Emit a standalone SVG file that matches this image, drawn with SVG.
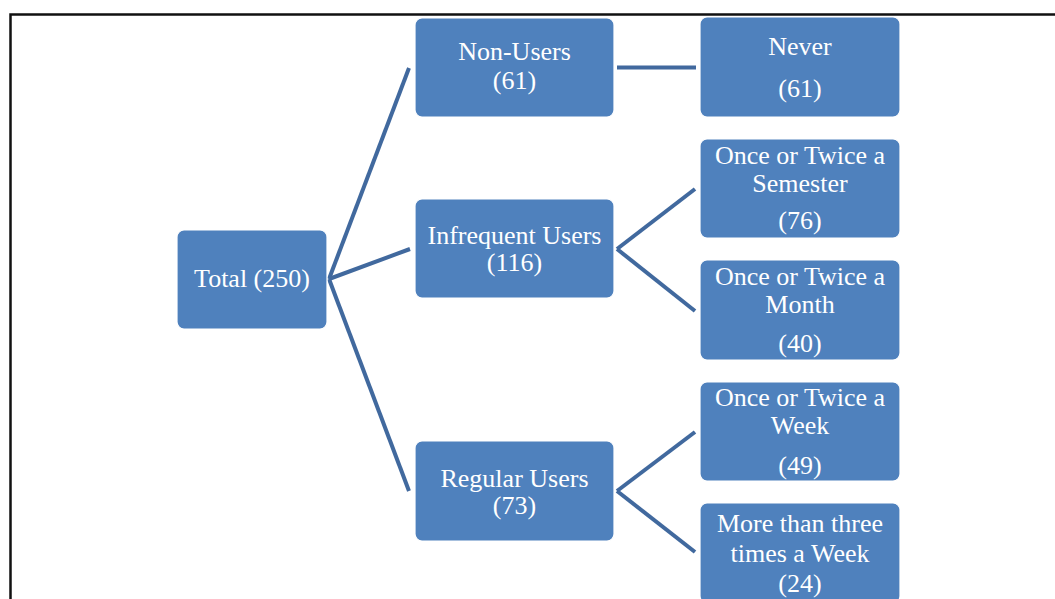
<svg xmlns="http://www.w3.org/2000/svg" width="1055" height="599" viewBox="0 0 1055 599">
<style>
.node rect{fill:#4F81BD;stroke:#FFFFFF;stroke-width:1.2}
.node text{fill:#FFFFFF;font-family:"Liberation Serif","Times New Roman",serif;font-size:26px;text-anchor:middle}
.conn line{stroke:#41699E;stroke-width:4;stroke-linecap:butt}
</style>
<rect x="0" y="0" width="1055" height="599" fill="#FFFFFF"/>
<path d="M10.5 600 V14.5 H1056" fill="none" stroke="#111111" stroke-width="2.5"/>
<g class="conn" id="connectors">
<line x1="329" y1="279" x2="409" y2="68"/>
<line x1="329" y1="279" x2="410" y2="249"/>
<line x1="329" y1="279" x2="409" y2="491"/>
<line x1="617" y1="67.5" x2="696" y2="67.5"/>
<line x1="617" y1="249" x2="695" y2="189"/>
<line x1="617" y1="249" x2="695" y2="311"/>
<line x1="617" y1="491" x2="695" y2="432"/>
<line x1="617" y1="491" x2="695" y2="552"/>
</g>
<g class="node" id="total"><rect x="177" y="230" width="150" height="99" rx="7"/><text x="252" y="287">Total (250)</text></g>
<g class="node" id="non-users"><rect x="415" y="18" width="199" height="99" rx="7"/><text x="514.5" y="60">Non-Users</text><text x="514.5" y="88.5">(61)</text></g>
<g class="node" id="infrequent"><rect x="415" y="199" width="199" height="99" rx="7"/><text x="514.5" y="243.5">Infrequent Users</text><text x="514.5" y="271">(116)</text></g>
<g class="node" id="regular"><rect x="415" y="441" width="199" height="100" rx="7"/><text x="514.5" y="486.5">Regular Users</text><text x="514.5" y="514">(73)</text></g>
<g class="node" id="never"><rect x="700" y="17" width="200" height="100" rx="7"/><text x="800" y="55">Never</text><text x="800" y="97">(61)</text></g>
<g class="node" id="semester"><rect x="700" y="139" width="200" height="99" rx="7"/><text x="800" y="163.5">Once or Twice a</text><text x="800" y="192">Semester</text><text x="800" y="229">(76)</text></g>
<g class="node" id="month"><rect x="700" y="260" width="200" height="100" rx="7"/><text x="800" y="284.5">Once or Twice a</text><text x="800" y="313">Month</text><text x="800" y="351.5">(40)</text></g>
<g class="node" id="week"><rect x="700" y="382" width="200" height="99" rx="7"/><text x="800" y="406">Once or Twice a</text><text x="800" y="434">Week</text><text x="800" y="473.5">(49)</text></g>
<g class="node" id="more"><rect x="700" y="503" width="200" height="100" rx="7"/><text x="800" y="531.5">More than three</text><text x="800" y="561.5">times a Week</text><text x="800" y="592">(24)</text></g>
</svg>
